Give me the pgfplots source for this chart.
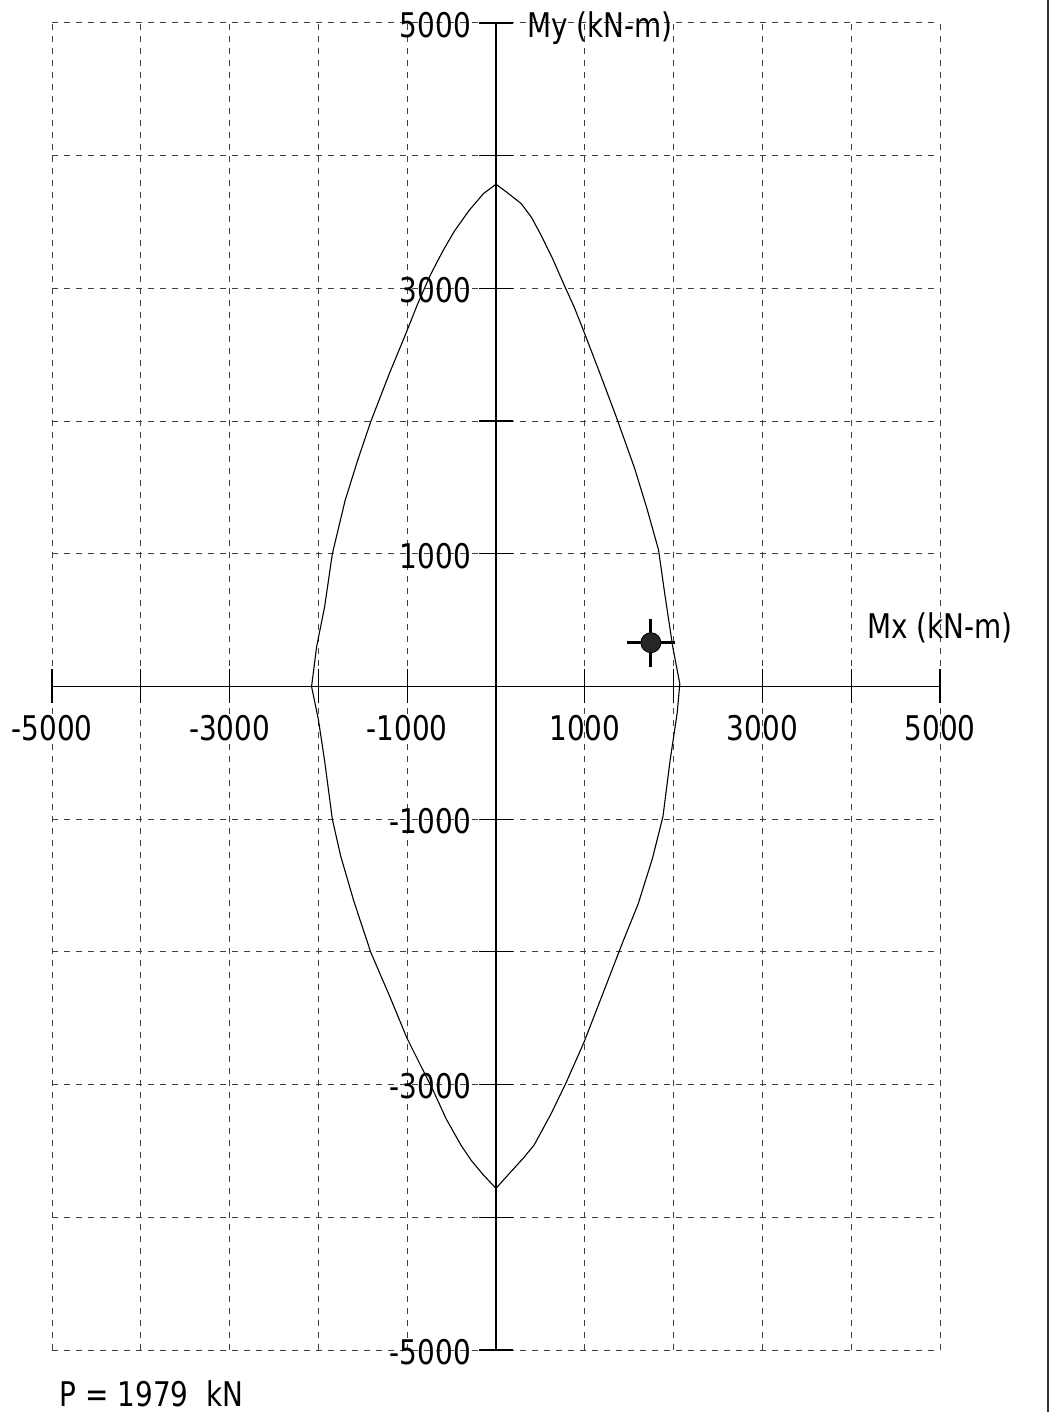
\documentclass[border=0pt]{standalone}
\usepackage{fontspec}
\setmainfont{DejaVu Sans}[FakeStretch=0.82]
\usepackage{pgfplots}
\pgfplotsset{compat=1.18}
\begin{document}
\begin{tikzpicture}
\useasboundingbox (-26pt,-31pt) rectangle (499.5pt,675pt);
\begin{axis}[
  at={(0,0)}, anchor=south west,
  width=444pt, height=663.5pt, scale only axis,
  xmin=-5000, xmax=5000, ymin=-5000, ymax=5000,
  axis lines=middle, axis line style={-, line width=0.6pt, black},
  xtick={-5000,-4000,...,5000}, ytick={-5000,-4000,...,5000},
  xticklabels={-5000,,-3000,,-1000,,1000,,3000,,5000},
  yticklabels={-5000,,-3000,,-1000,,1000,,3000,,5000},
  grid=major,
  major grid style={dash pattern=on 3pt off 3pt, black!75, line width=0.5pt},
  tick align=center, major tick length=17pt,
  tick style={black, line width=0.6pt},
  ticklabel style={font=\fontsize{17}{20}\selectfont},
  xticklabel style={anchor=center, yshift=-12.5pt},
  yticklabel style={anchor=east, xshift=-0.5pt, yshift=-1pt},
  clip=false,
]
\addplot[black, line width=0.55pt] coordinates {
(0,3785) (120,3725) (282,3640) (400,3535) (508,3400) (640,3220) (771,3020)
(880,2860) (978,2695) (1170,2360) (1354,2032) (1561,1644) (1700,1340)
(1830,1030) (1900,700) (1990,300) (2070,20) (2040,-200) (1960,-560)
(1880,-980) (1760,-1300) (1600,-1640) (1425,-1930) (1200,-2320)
(992,-2679) (785,-2992) (620,-3220) (429,-3456) (300,-3560) (150,-3670) (0,-3782)
(-150,-3675) (-280,-3570) (-395,-3456) (-560,-3260) (-700,-3055) (-1000,-2654)
(-1200,-2330) (-1411,-2002) (-1600,-1620) (-1750,-1276) (-1843,-1000)
(-1930,-560) (-2000,-250) (-2077,0) (-2020,300) (-1930,600) (-1843,1000)
(-1700,1400) (-1560,1700) (-1411,1995) (-1200,2360) (-1016,2658)
(-884,2880) (-740,3100) (-600,3280) (-470,3430) (-300,3590) (-140,3715) (0,3785)
};
\addplot[only marks, mark=+, mark size=12pt, line width=1.6pt, black] coordinates {(1744,330)};
\addplot[only marks, mark=*, mark size=5pt, fill=black!85, draw=black] coordinates {(1744,330)};
\node[font=\fontsize{17}{20}\selectfont] at (axis cs:5000,440) {Mx (kN-m)};
\node[font=\fontsize{17}{20}\selectfont] at (axis cs:1170,4960) {My (kN-m)};
\node[font=\fontsize{17}{20}\selectfont] at (axis cs:-3880,-5330) {P = 1979\ \ kN};
\end{axis}
\draw[black!80, line width=1pt] (498pt,-31pt) -- (498pt,675pt);
\end{tikzpicture}
\end{document}
